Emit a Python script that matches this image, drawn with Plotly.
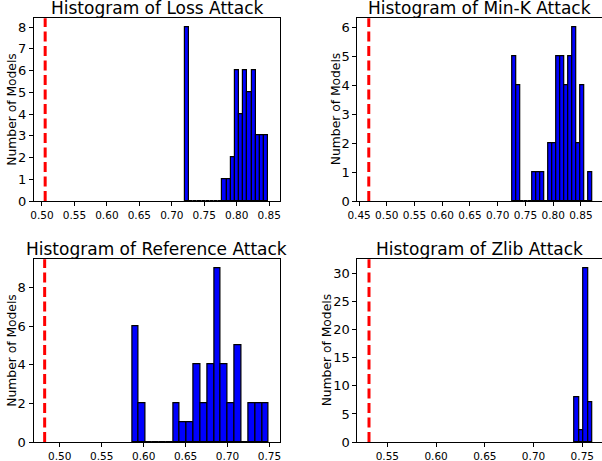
import plotly.graph_objects as go

# ---- data ----
titles = ["Histogram of Loss Attack", "Histogram of Min-K Attack",
          "Histogram of Reference Attack", "Histogram of Zlib Attack"]

loss_counts = [8, 0, 0, 0, 0, 0, 0, 0, 0, 1, 1, 2, 6, 4, 6, 5, 6, 3, 3, 3]
loss_bin_start = 0.7202
loss_bin_width = 0.00642
loss_baseline = 0.505

mink_counts = [5, 4, 0, 0, 0, 1, 1, 1, 0, 2, 2, 5, 5, 4, 5, 6, 2, 4, 0, 1]
mink_bin_start = 0.7269
mink_bin_width = 0.00722
mink_baseline = 0.4675

ref_counts = [6, 2, 0, 0, 0, 0, 2, 1, 1, 4, 2, 4, 9, 4, 2, 5, 0, 2, 2, 2]
ref_bin_start = 0.5861
ref_bin_width = 0.008155
ref_baseline = 0.482

zlib_counts = [8, 2, 31, 7]
zlib_bin_start = 0.7422
zlib_bin_width = 0.0045
zlib_baseline = 0.5312

loss_xticks = [0.50, 0.55, 0.60, 0.65, 0.70, 0.75, 0.80, 0.85]
mink_xticks = [0.45, 0.50, 0.55, 0.60, 0.65, 0.70, 0.75, 0.80, 0.85]
ref_xticks = [0.50, 0.55, 0.60, 0.65, 0.70, 0.75]
zlib_xticks = [0.55, 0.60, 0.65, 0.70, 0.75]

loss_yticks = [0, 1, 2, 3, 4, 5, 6, 7, 8]
mink_yticks = [0, 1, 2, 3, 4, 5, 6]
ref_yticks = [0, 2, 4, 6, 8]
zlib_yticks = [0, 5, 10, 15, 20, 25, 30]

# ---- layout geometry ----
W, H = 602, 461
panels = [
    dict(counts=loss_counts, start=loss_bin_start, width=loss_bin_width, base=loss_baseline,
         xt=loss_xticks, yt=loss_yticks, xr=[0.4878, 0.8658], yr=[0, 8.4],
         px=(34, 279.5), py=(18.3, 201), ylab_x=12, right_cut=False),
    dict(counts=mink_counts, start=mink_bin_start, width=mink_bin_width, base=mink_baseline,
         xt=mink_xticks, yt=mink_yticks, xr=[0.4468, 0.8881], yr=[0, 6.3],
         px=(357.3, 602), py=(18.3, 201), ylab_x=335.5, right_cut=True),
    dict(counts=ref_counts, start=ref_bin_start, width=ref_bin_width, base=ref_baseline,
         xt=ref_xticks, yt=ref_yticks, xr=[0.4687, 0.7625], yr=[0, 9.45],
         px=(33.5, 280), py=(259.3, 442), ylab_x=12, right_cut=False),
    dict(counts=zlib_counts, start=zlib_bin_start, width=zlib_bin_width, base=zlib_baseline,
         xt=zlib_xticks, yt=zlib_yticks, xr=[0.5192, 0.7702], yr=[0, 32.55],
         px=(357.3, 602), py=(259.3, 442), ylab_x=326.7, right_cut=True),
]

fig = go.Figure()
font = "DejaVu Sans"
annotations = []
shapes = []

for i, p in enumerate(panels):
    n = "" if i == 0 else str(i + 1)
    xa, ya = "x" + n, "y" + n
    centers = [p["start"] + (k + 0.5) * p["width"] for k in range(len(p["counts"]))]
    fig.add_trace(go.Bar(
        x=centers, y=p["counts"], width=p["width"],
        marker=dict(color="#0000ff", line=dict(color="black", width=1.2)),
        xaxis=xa, yaxis=ya, showlegend=False, hoverinfo="skip"))

    xdom = [p["px"][0] / W, p["px"][1] / W]
    ydom = [1 - p["py"][1] / H, 1 - p["py"][0] / H]
    fig.layout["xaxis" + n] = dict(
        domain=xdom, range=p["xr"], anchor=ya, tickvals=p["xt"],
        ticktext=["%.2f" % v for v in p["xt"]], automargin=False,
        showline=True, linecolor="black", linewidth=1, mirror=True,
        ticks="outside", ticklen=4, tickwidth=1, tickcolor="black",
        showgrid=False, zeroline=False,
        tickfont=dict(family=font, size=10.5, color="black"))
    fig.layout["yaxis" + n] = dict(
        domain=ydom, range=p["yr"], anchor=xa, tickvals=p["yt"], automargin=False,
        showline=True, linecolor="black", linewidth=1, mirror=not p["right_cut"],
        ticks="outside", ticklen=4, tickwidth=1, tickcolor="black",
        showgrid=False, zeroline=False,
        tickfont=dict(family=font, size=13, color="black"))

    # baseline dashed line
    shapes.append(dict(type="line", xref=xa, yref=ya + " domain",
                       x0=p["base"], x1=p["base"], y0=0, y1=1,
                       line=dict(color="red", width=3, dash="10px,4.5px")))
    # title
    annotations.append(dict(text=titles[i], xref=xa + " domain", yref=ya + " domain",
                            x=0.5, y=1, xanchor="center", yanchor="bottom",
                            yshift=-2, showarrow=False,
                            font=dict(family=font, size=17, color="black")))
    # y label
    annotations.append(dict(text="Number of Models", xref="paper", yref="paper",
                            x=p["ylab_x"] / W, y=(ydom[0] + ydom[1]) / 2,
                            xanchor="center", yanchor="middle", textangle=-90,
                            showarrow=False,
                            font=dict(family=font, size=12.3, color="black")))

fig.update_layout(
    width=W, height=H, margin=dict(l=0, r=0, t=0, b=0),
    paper_bgcolor="white", plot_bgcolor="white",
    annotations=annotations, shapes=shapes, bargap=0)

fig.write_html("out.html", config={"displayModeBar": False},
               post_script="document.body.style.margin='0';document.body.style.overflow='hidden';")
